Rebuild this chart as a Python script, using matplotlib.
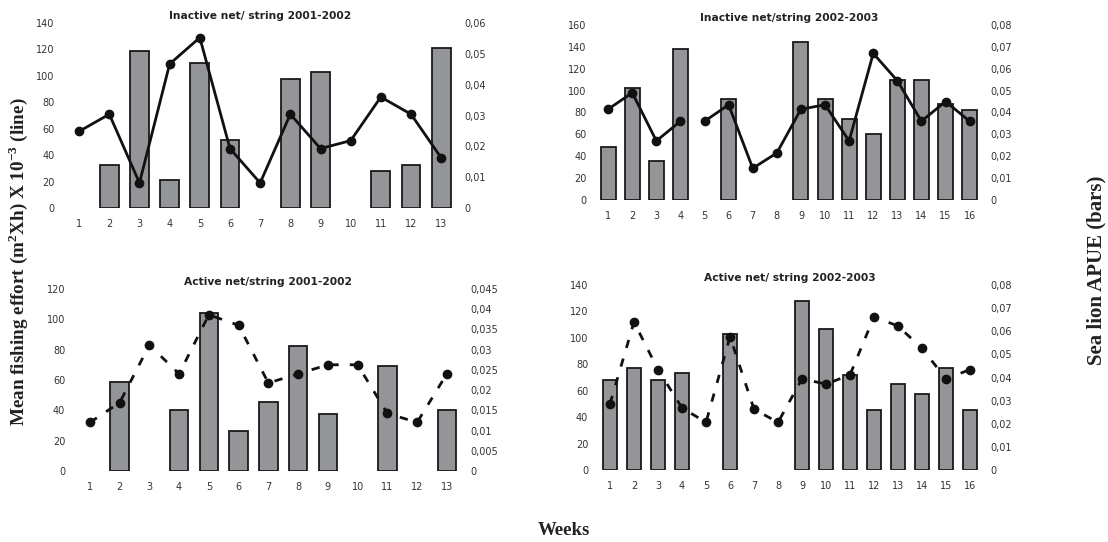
import numpy as np
import matplotlib
matplotlib.use("Agg")
import matplotlib.pyplot as plt

# ---- data -------------------------------------------------------------
weeks_0102 = list(range(1, 14))
weeks_0203 = list(range(1, 17))

# Inactive net/string 2001-2002
inact01_effort = [58, 71, 19, 109, 129, 45, 19, 71, 45, 51, 84, 71, 38]
inact01_apue = [np.nan, 0.014, 0.051, 0.009, 0.047, 0.022, np.nan, 0.042,
                0.044, np.nan, 0.012, 0.014, 0.052]

# Inactive net/string 2002-2003
inact02_effort = [83, 98, 54, 72, 72, 87, 29, 43, 83, 87, 54, 134, 109, 72, 90, 72]
inact02_apue = [0.024, 0.051, 0.018, 0.069, np.nan, 0.046, np.nan, np.nan,
                0.072, 0.046, 0.037, 0.030, 0.055, 0.055, 0.044, 0.041]
inact02_break = 4  # the effort line is interrupted after week 4

# Active net/string 2001-2002
act01_effort = [32, 45, 83, 64, 103, 96, 58, 64, 70, 70, 38, 32, 64]
act01_apue = [np.nan, 0.022, np.nan, 0.015, 0.039, 0.010, 0.017, 0.031,
              0.014, np.nan, 0.026, np.nan, 0.015]

# Active net/string 2002-2003
act02_effort = [50, 112, 76, 47, 36, 101, 46, 36, 69, 65, 72, 116, 109, 92, 69, 76]
act02_apue = [0.039, 0.044, 0.039, 0.042, np.nan, 0.059, np.nan, np.nan,
              0.073, 0.061, 0.041, 0.026, 0.037, 0.033, 0.044, 0.026]

titles = ["Inactive net/ string 2001-2002", "Inactive net/string 2002-2003",
          "Active net/string 2001-2002", "Active net/ string 2002-2003"]

# ---- style ------------------------------------------------------------
BAR_COLOR = "#939598"
TICK_COLOR = "#333333"
TICK_FS = 7
TITLE_FS = 7.7

fig = plt.figure(figsize=(11.08, 5.42), dpi=100)


def panel(rect, weeks, effort, apue, left_max, left_step, right_max,
          right_step, right_fmt, title, dashed=False, breaks=None):
    ax = fig.add_axes(rect)
    ax2 = ax.twinx()
    # bars (sea lion APUE) on the right axis, drawn beneath the line
    ax.set_zorder(ax2.get_zorder() + 1)
    ax.patch.set_visible(False)
    ax2.bar(weeks, apue, width=0.62, color=BAR_COLOR, edgecolor="#1a1a1a",
            linewidth=1.3)
    ls = (0, (3, 4)) if dashed else "-"
    segs = [(0, len(weeks))] if breaks is None else [(0, breaks), (breaks, len(weeks))]
    for a, b in segs:
        ax.plot(weeks[a:b], effort[a:b], color="#111111", lw=2.0, ls=ls,
                marker="o", ms=6, mfc="#111111", mec="#111111")
    ax.set_xlim(0.5, len(weeks) + 0.5)
    ax.set_ylim(0, left_max)
    ax2.set_ylim(0, right_max)
    ax.set_yticks(np.arange(0, left_max + 1e-9, left_step))
    rt = np.arange(0, right_max + 1e-9, right_step)
    ax2.set_yticks(rt)
    ax2.set_yticklabels([("0" if v == 0 else (right_fmt % v).replace(".", ","))
                         for v in rt])
    ax.set_xticks(weeks)
    for a in (ax, ax2):
        for s in a.spines.values():
            s.set_visible(False)
        a.tick_params(length=0, labelsize=TICK_FS, colors=TICK_COLOR)
    ax.tick_params(axis="y", pad=7)
    ax2.tick_params(axis="y", pad=6)
    ax.tick_params(axis="x", pad=8)
    ax.set_title(title, fontsize=TITLE_FS, fontweight="bold", pad=3,
                 color="#222222")
    return ax


panel([0.0578, 0.6162, 0.354, 0.3413], weeks_0102, inact01_effort, inact01_apue,
      140, 20, 0.06, 0.01, "%.2f", titles[0])
panel([0.538, 0.631, 0.348, 0.323], weeks_0203, inact02_effort, inact02_apue,
      160, 20, 0.08, 0.01, "%.2f", titles[1], breaks=inact02_break)
panel([0.0677, 0.131, 0.349, 0.336], weeks_0102, act01_effort, act01_apue,
      120, 20, 0.045, 0.005, "%.3g", titles[2], dashed=True)
panel([0.5397, 0.133, 0.3466, 0.341], weeks_0203, act02_effort, act02_apue,
      140, 20, 0.08, 0.01, "%.2f", titles[3], dashed=True)

serif = ["Liberation Serif", "DejaVu Serif"]
fig.text(0.0165, 0.518, r"Mean fishing effort (m$^{\mathregular{2}}$Xh) X 10$^{\mathregular{-3}}$ (line)",
         rotation=90, ha="center", va="center", fontsize=13.8,
         fontweight="bold", family=serif, color="#222222")
fig.text(0.990, 0.502, "Sea lion APUE (bars)", rotation=90, ha="center",
         va="center", fontsize=15, fontweight="bold", family=serif,
         color="#222222")
fig.text(0.509, 0.022, "Weeks", ha="center", va="center", fontsize=13.5,
         fontweight="bold", family=serif, color="#222222")

fig.savefig("out.png", dpi=100, facecolor="white")
